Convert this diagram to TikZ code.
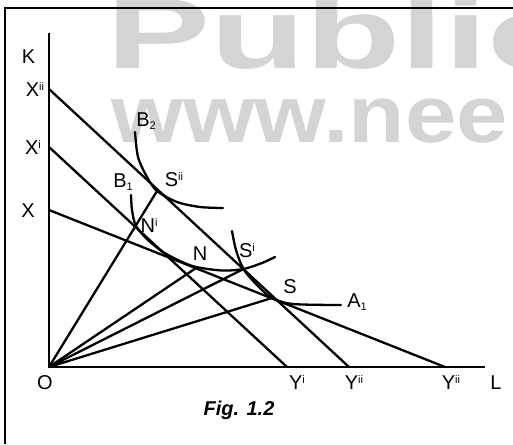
\documentclass[tikz,border=0pt]{standalone}
\usepackage{fontspec}
\setmainfont{Liberation Sans}
\usepackage{xcolor}
\usepackage{graphicx}
\usetikzlibrary{positioning}

\definecolor{wmgray}{RGB}{212,212,212}
\newcommand{\upidx}[1]{\raisebox{6pt}{\fontsize{11}{11}\selectfont #1}}
\newcommand{\lowidx}[1]{\raisebox{-2.5pt}{\fontsize{11}{11}\selectfont #1}}

\begin{document}
\begin{tikzpicture}[
        x=1pt, y=-1pt,
        frameline/.style={line width=2.6pt},
        axisline/.style={line width=2.6pt},
        budget/.style={line width=2.3pt},
        ray/.style={line width=2.3pt},
        isoquant/.style={line width=2.3pt, line cap=round},
        lbl/.style={inner sep=0pt, font=\fontsize{20}{24}\selectfont},
        watermark/.style={inner sep=0pt, anchor=base west, text=wmgray}
    ]
    \useasboundingbox (0,0) rectangle (513,444);
    % watermark behind the figure
    \begin{scope}
        \clip (0,0) rectangle (513,444);
        \node[watermark, font=\fontsize{100}{104}\selectfont\bfseries] (pub) at (106,68) {\scalebox{1.56}[1]{Public}};
        \node[watermark, font=\fontsize{81}{86}\selectfont\bfseries] (web) at (111,142) {\scalebox{1.14}[1]{www.nee}};
    \end{scope}
    \draw[frameline] (5,444) -- (5,8) -- (513,8);

    % points
    \coordinate (O) at (49,367);
    \coordinate (Ktop) at (49,33);
    \coordinate (Lend) at (485,367);
    \coordinate (X0) at (49,210);
    \coordinate (X1) at (49,147);
    \coordinate (X2) at (49,89);
    \coordinate (Y0) at (445,367);
    \coordinate (Y1) at (287,367);
    \coordinate (Y2) at (349,367);
    \coordinate (S2) at (157,191);
    \coordinate (N1) at (135.5,227);
    \coordinate (N) at (196,268);
    \coordinate (S1) at (243.5,269);
    \coordinate (S) at (272,298);

    \draw[axisline] (Ktop) -- (O) -- (Lend);
    \draw[budget] (X0) -- (Y0);
    \draw[budget] (X1) -- (Y1);
    \draw[budget] (X2) -- (Y2);
    \foreach \pt in {S2, N, S1, S}
        \draw[ray] (O) -- (\pt);

    % isoquants
    \draw[isoquant] plot[smooth] coordinates {(135,132) (138,157) (147,177) (157,191) (177,202) (200,207) (223,208)};
    \draw[isoquant] plot[smooth] coordinates {(131,195) (132,210) (136,226) (148,240) (163,252) (180,261) (196,267) (222,270.5) (243.5,269) (262,263) (275,257)};
    \draw[isoquant] plot[smooth] coordinates {(232,231) (236,250) (243.5,269) (257,285) (272,298) (293,304) (341,305)};

    % labels
    \node[lbl] (lK) at (28.5,56.5) {K};
    \node[lbl] (lX2) at (35,90) {X\upidx{ii}};
    \node[lbl] (lX1) at (33,148) {X\upidx{i}};
    \node[lbl] (lX0) at (28,211) {X};
    \node[lbl] (lB2) at (146,121) {B\lowidx{2}};
    \node[lbl] (lS2) at (174,180) {S\upidx{ii}};
    \node[lbl] (lB1) at (123,182) {B\lowidx{1}};
    \node[lbl] (lN1) at (149,226) {N\upidx{i}};
    \node[lbl] (lN) at (200,254) {N};
    \node[lbl] (lS1) at (247,251) {S\upidx{i}};
    \node[lbl] (lS) at (290,287) {S};
    \node[lbl] (lA1) at (357,302) {A\lowidx{1}};
    \node[lbl] (lO) at (45,383) {O};
    \node[lbl] (lY1) at (297,383) {Y\upidx{i}};
    \node[lbl] (lY2) at (354,383) {Y\upidx{ii}};
    \node[lbl] (lY0) at (451,383) {Y\upidx{ii}};
    \node[lbl] (lL) at (496,383) {L};
    \node[lbl, font=\fontsize{20}{24}\selectfont\bfseries\itshape] (fig) at (239,410) {Fig. 1.2};
\end{tikzpicture}
\end{document}
